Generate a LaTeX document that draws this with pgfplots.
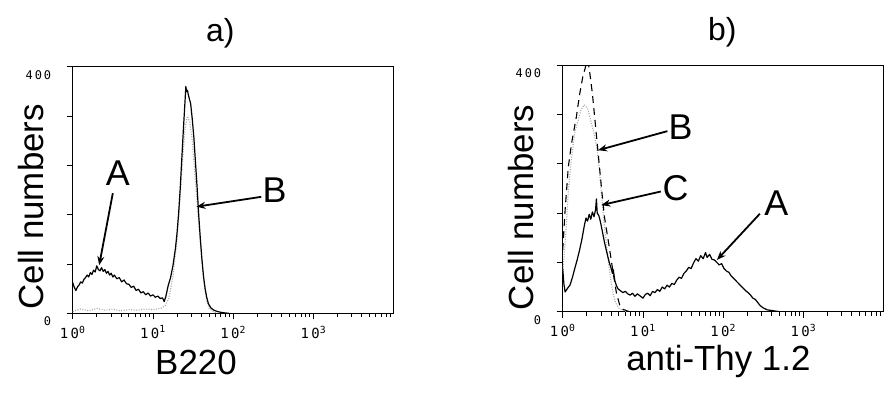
\documentclass[border=0pt]{standalone}
\usepackage{pgfplots}
\pgfplotsset{compat=1.18}
\usepackage{pgfplotstable}
\usepackage{fontspec}
\setmainfont{Liberation Sans}
\newfontfamily\tickfont{DejaVu Sans Mono}
\usetikzlibrary{arrows.meta}

% panel a, solid curve (A, B220 staining); x = log10 fluorescence
\pgfplotstableread{
lg val
0.00 50
0.02 42
0.04 37
0.06 43
0.08 46
0.10 51
0.12 49
0.14 55
0.16 58
0.18 62
0.20 59
0.22 66
0.24 63
0.26 70
0.28 67
0.30 77
0.32 71
0.34 69
0.36 74
0.38 68
0.40 71
0.42 65
0.44 68
0.46 62
0.48 65
0.50 59
0.52 62
0.55 56
0.58 58
0.61 51
0.64 54
0.67 48
0.70 47
0.73 42
0.76 44
0.79 37
0.82 39
0.85 33
0.88 35
0.91 30
0.94 33
0.97 28
1.00 30
1.03 26
1.06 28
1.09 24
1.12 25
1.14 19
1.16 27
1.19 45
1.22 58
1.25 78
1.28 105
1.30 130
1.32 162
1.34 203
1.36 252
1.38 300
1.40 345
1.41 368
1.42 360
1.43 362
1.44 355
1.45 350
1.47 340
1.49 315
1.51 285
1.53 245
1.55 205
1.57 160
1.59 122
1.61 88
1.63 60
1.65 40
1.67 26
1.69 16
1.72 9
1.76 5
1.80 3
1.85 1.5
1.90 0.5
1.95 0
}\aA

% panel a, dotted curve
\pgfplotstableread{
lg val
0.00 3
0.10 7
0.20 4
0.30 8
0.40 5
0.50 7
0.60 4
0.70 6
0.80 5
0.90 7
1.00 6
1.10 8
1.15 12
1.20 25
1.25 60
1.30 120
1.34 190
1.37 250
1.40 300
1.43 320
1.46 310
1.49 280
1.52 230
1.55 180
1.58 130
1.61 85
1.64 45
1.67 20
1.70 8
1.75 3
1.80 0
}\aB

% panel b, solid curve
\pgfplotstableread{
lg val
0.000 70
0.015 45
0.030 32
0.06 38
0.09 43
0.12 55
0.15 70
0.18 84
0.21 100
0.24 118
0.27 140
0.29 152
0.31 147
0.33 158
0.35 150
0.37 162
0.39 154
0.41 166
0.42 183
0.43 160
0.45 156
0.47 146
0.49 133
0.52 113
0.55 96
0.58 80
0.60 72
0.62 62
0.63 68
0.65 50
0.67 42
0.69 37
0.72 34
0.75 31
0.78 33
0.81 29
0.84 27
0.87 30
0.90 25
0.93 29
0.96 26
1.00 22
1.03 28
1.06 30
1.09 26
1.12 33
1.15 31
1.18 36
1.21 33
1.24 40
1.27 37
1.30 43
1.33 40
1.36 46
1.39 44
1.42 51
1.45 56
1.48 54
1.51 62
1.54 66
1.57 72
1.60 70
1.63 79
1.66 86
1.69 82
1.72 91
1.75 86
1.78 96
1.80 88
1.83 93
1.86 85
1.89 84
1.92 80
1.95 76
1.98 78
2.01 70
2.04 66
2.07 64
2.10 58
2.13 54
2.16 50
2.19 46
2.22 42
2.25 38
2.28 34
2.31 31
2.34 27
2.37 22
2.40 20
2.43 15
2.46 10
2.50 6
2.55 3
2.60 2
2.65 1
2.70 0
}\bA

% panel b, dashed curve
\pgfplotstableread{
lg val
0.00 100
0.03 165
0.07 235
0.11 273
0.17 316
0.21 352
0.25 381
0.29 400
0.31 408
0.33 395
0.37 354
0.41 300
0.45 246
0.49 192
0.52 154
0.58 105
0.63 62
0.67 30
0.71 11
0.75 4
0.83 0
}\bB

% panel b, dotted curve
\pgfplotstableread{
lg val
0.00 60
0.04 130
0.07 195
0.11 250
0.15 290
0.19 310
0.23 328
0.27 336
0.31 330
0.35 310
0.39 290
0.42 270
0.45 240
0.48 195
0.51 150
0.54 115
0.57 80
0.60 50
0.63 28
0.66 14
0.70 6
0.75 2
0.80 0
}\bD

\pgfplotsset{
  flow/.style={
    scale only axis, width=321bp, height=246.5bp,
    anchor=south west,
    xmin=0, xmax=4, ymin=0, ymax=400,
    xtick={0,1,2,3},
    xticklabels={1\,0\textsuperscript{0},1\,0\textsuperscript{1},1\,0\textsuperscript{2},1\,0\textsuperscript{3}},
    minor xtick={0.301,0.477,0.602,0.699,0.778,0.845,0.903,0.954,1.301,1.477,1.602,1.699,1.778,1.845,1.903,1.954,2.301,2.477,2.602,2.699,2.778,2.845,2.903,2.954,3.301,3.477,3.602,3.699,3.778,3.845,3.903,3.954},
    ytick={0,80,160,240,320,400},
    yticklabels={0,,,,,4\,0\,0},
    tick align=outside, tick pos=left,
    major tick length=6bp, minor tick length=4bp,
    axis line style={line width=0.9bp},
    every tick/.style={black, line width=0.8bp},
    xticklabel style={font={\fontsize{14}{16}\selectfont\tickfont}, yshift=-3bp},
    yticklabel style={font={\fontsize{12}{14}\selectfont\tickfont}, anchor=east, xshift=-12bp, yshift=-8bp},
    label style={font={\fontsize{35}{40}\selectfont}},
    title style={font={\fontsize{32}{36}\selectfont}, anchor=center},
    ylabel={Cell numbers},
    ylabel style={anchor=center, rotate=0},
    xlabel style={anchor=center},
  },
  solidc/.style={black, line width=1.2bp, line join=round},
  dottedc/.style={gray!70, line width=1.1bp, dash pattern=on 1bp off 1.5bp},
  dashedc/.style={black, line width=1.1bp, dash pattern=on 7bp off 5bp},
}
\tikzset{
  lab/.style={font={\fontsize{36}{40}\selectfont}, anchor=center},
  arr/.style={line width=1.8bp, -{Stealth[length=9bp,width=7bp]}},
}

\begin{document}
\begin{tikzpicture}
\useasboundingbox (0,0) rectangle (896bp,397bp);

% ---- panel a ----
\begin{axis}[flow, at={(72.7bp,83.7bp)},
  title={a)}, title style={at={(axis description cs:0.46,1.11)}},
  xlabel={B220}, xlabel style={at={(axis description cs:0.384,-0.198)}},
  ylabel style={at={(axis description cs:-0.13,0.432)}}]
\addplot[dottedc] table[x=lg, y=val] {\aB};
\addplot[solidc] table[x=lg, y=val] {\aA};
\node[lab] at (axis cs:0.563,228) {A};
\draw[arr] (axis cs:0.50,195) -- (axis cs:0.33,78);
\node[lab] at (axis cs:2.516,200) {B};
\draw[arr] (axis cs:2.35,189) -- (axis cs:1.542,173);
\end{axis}

% ---- panel b ----
\begin{axis}[flow, at={(562.7bp,85.3bp)},
  title={b)}, title style={at={(axis description cs:0.497,1.11)}},
  xlabel={anti-Thy 1.2}, xlabel style={at={(axis description cs:0.485,-0.204)}},
  ylabel style={at={(axis description cs:-0.129,0.423)}}]
\addplot[dottedc] table[x=lg, y=val] {\bD};
\addplot[dashedc] table[x=lg, y=val] {\bB};
\addplot[solidc] table[x=lg, y=val] {\bA};
\node[lab] at (axis cs:1.469,300) {B};
\draw[arr] (axis cs:1.305,293) -- (axis cs:0.44,262);
\node[lab] at (axis cs:1.407,200) {C};
\draw[arr] (axis cs:1.222,195) -- (axis cs:0.481,173);
\node[lab] at (axis cs:2.663,176) {A};
\draw[arr] (axis cs:2.457,159) -- (axis cs:1.922,84);
\end{axis}
\end{tikzpicture}
\end{document}
